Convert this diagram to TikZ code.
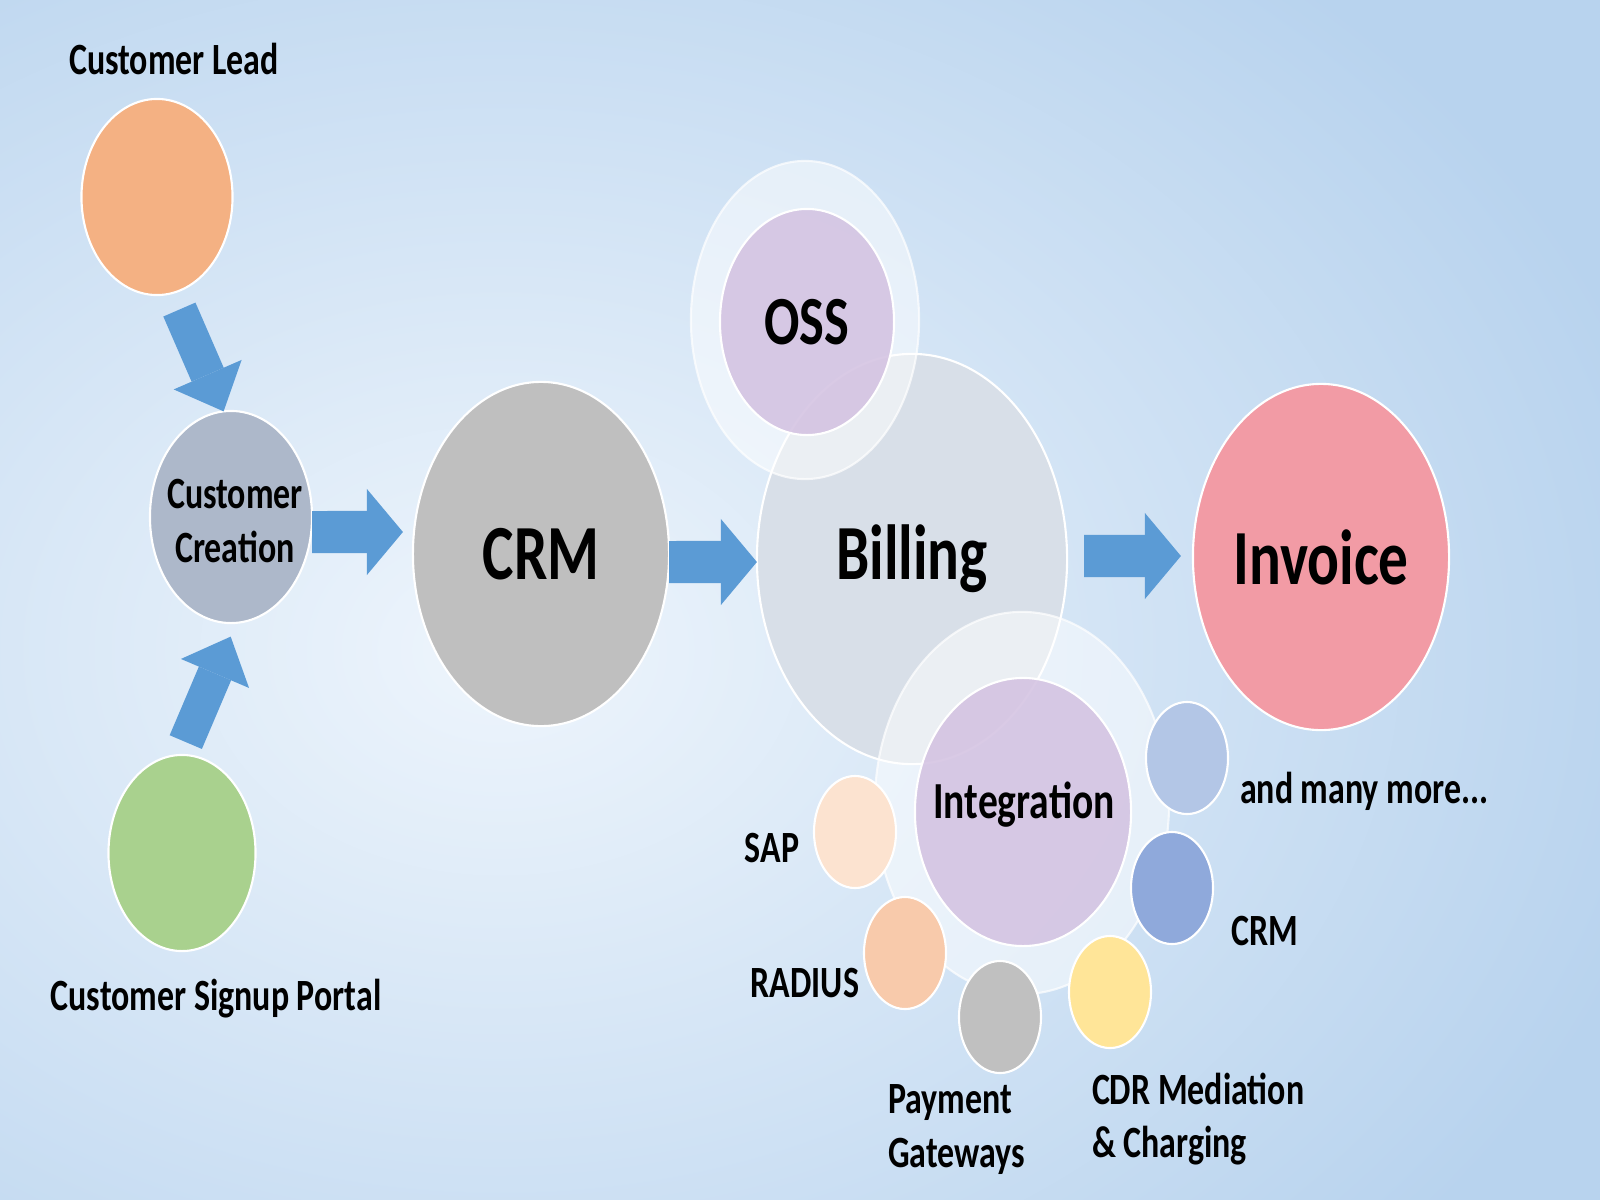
\documentclass[tikz,border=0pt]{standalone}
\usepackage{fontspec}
\setmainfont{Carlito}[FakeStretch=0.76]
\usetikzlibrary{arrows.meta,shapes.geometric}
\definecolor{bgblue}{HTML}{B8D3EE}
\definecolor{bglight}{HTML}{EEF5FC}
\definecolor{flowblue}{HTML}{5B9BD5}
\definecolor{leadorange}{HTML}{F4B183}
\definecolor{signupgreen}{HTML}{A9D18E}
\definecolor{creationgrey}{HTML}{ADB8CA}
\definecolor{crmgrey}{HTML}{BFBFBF}
\definecolor{billinggrey}{HTML}{D8DFE8}
\definecolor{lilac}{HTML}{D3C1E1}
\definecolor{invoicepink}{HTML}{F29BA5}
\definecolor{sappeach}{HTML}{FCE3D0}
\definecolor{radiusorange}{HTML}{F8CAAB}
\definecolor{paygrey}{HTML}{C0C0C0}
\definecolor{cdryellow}{HTML}{FFE598}
\definecolor{crmblue}{HTML}{8FA9DB}
\definecolor{moreblue}{HTML}{B3C6E6}

\begin{document}
\begin{tikzpicture}[
  x=0.01cm,
  y=-0.01cm,
  every node/.style={black, inner sep=0pt, outer sep=0pt},
  blob/.style={ellipse, draw=white, line width=0.6pt},
  halo/.style={ellipse, fill=white, fill opacity=0.5, draw=white,
    draw opacity=0.7, line width=0.6pt},
  flow/.style={flowblue, line width=0.42cm,
    -{Triangle[length=0.36cm 0 0, width=0.86cm 0 0, line width=0pt 0 0]}},
  feed/.style={flowblue, line width=0.35cm,
    -{Triangle[length=0.40cm 0 0, width=0.74cm 0 0, line width=0pt 0 0]}},
  lbl/.style={font=\bfseries\fontsize{12.7}{15.1}\selectfont},
  midlbl/.style={font=\bfseries\fontsize{14.8}{17}\selectfont},
  biglbl/.style={font=\bfseries\fontsize{22.2}{26}\selectfont}
]
  \useasboundingbox (0,0) rectangle (1600,1200);

  % ================= background =========================================
  \begin{scope}
    \clip (0,0) rectangle (1600,1200);
    \fill[bgblue] (0,0) rectangle (1600,1200);
    \shade[inner color=bglight, outer color=bgblue]
      (-700,-250) rectangle (1700,1550);
  \end{scope}

  % ================= customer side ======================================
  \node[blob, fill=leadorange, minimum width=1.51cm, minimum height=1.96cm]
    (lead) at (157,197) {};
  \node[lbl, anchor=base] (leadlbl) at (174,74) {Customer Lead};

  \node[blob, fill=creationgrey, minimum width=1.62cm, minimum height=2.12cm]
    (creation) at (231,517) {};
  \node[lbl, align=center] (creationlbl) at (235,521) {Customer\\Creation};

  \node[blob, fill=signupgreen, minimum width=1.47cm, minimum height=1.96cm]
    (signup) at (182,853) {};
  \node[lbl, anchor=base] (signuplbl) at (216,1010) {Customer Signup Portal};

  \draw[feed, shorten <=0.18cm] (lead.-81) -- (creation.94);
  \draw[feed, shorten <=0.14cm, shorten >=0.15cm] (signup.91) -- (creation.-87);

  % ================= CRM ================================================
  \node[blob, fill=crmgrey, minimum width=2.56cm, minimum height=3.44cm,
        biglbl] (crm) at (541,554) {CRM};

  \draw[flow, shorten >=0.1cm]
    ([yshift=-0.15cm]creation.east) -- ([yshift=0.22cm]crm.west);

  % ================= billing with OSS and integration ===================
  \node[blob, fill=billinggrey, minimum width=3.10cm, minimum height=4.10cm,
        biglbl] (billing) at (912,559) {Billing};

  \node[halo, minimum width=2.28cm, minimum height=3.18cm] (osshalo)
    at (805,320) {};
  \node[blob, fill=lilac, fill opacity=0.85, text opacity=1,
        minimum width=1.74cm, minimum height=2.26cm,
        font=\bfseries\fontsize{19.6}{23}\selectfont]
    (oss) at (807,322) {OSS};

  \node[halo, minimum width=2.94cm, minimum height=3.82cm] (integhalo)
    at (1022,803) {};
  \node[blob, fill=lilac, fill opacity=0.85,
        minimum width=2.16cm, minimum height=2.68cm] (integ) at (1023,812) {};
  \node[midlbl] (integlbl) at (1024,805) {Integration};

  \draw[flow]
    ([yshift=-0.08cm]crm.east) -- ([yshift=-0.03cm]billing.west);

  % ================= systems round the integration ======================
  \foreach \name/\pos/\col in {sapc/{855,832}/sappeach,
      radiusc/{905,953}/radiusorange, payc/{1000,1017}/paygrey,
      cdrc/{1110,992}/cdryellow, crmc/{1172,888}/crmblue,
      morec/{1187,758}/moreblue}
    \node[blob, fill=\col, minimum width=0.82cm, minimum height=1.12cm]
      (\name) at (\pos) {};

  \node[lbl, anchor=base] (sap) at (772,862) {SAP};
  \node[lbl, anchor=base] (radius) at (805,997) {RADIUS};
  \node[lbl, anchor=north west, align=left] (pay) at (888,1085)
    {Payment\\Gateways};
  \node[lbl, anchor=north west, align=left] (cdr) at (1092,1073)
    {CDR Mediation\\\& Charging};
  \node[lbl, anchor=base] (crmlbl) at (1265,945) {CRM};
  \node[lbl, anchor=base west] (more) at (1240,803) {and many more...};

  % ================= invoice ============================================
  \node[blob, fill=invoicepink, minimum width=2.56cm, minimum height=3.46cm,
        biglbl] (invoice) at (1321,557) {Invoice};

  \draw[flow, shorten <=0.17cm, shorten >=0.12cm]
    ([yshift=0.03cm]billing.east) -- ([yshift=0.01cm]invoice.west);
\end{tikzpicture}
\end{document}
